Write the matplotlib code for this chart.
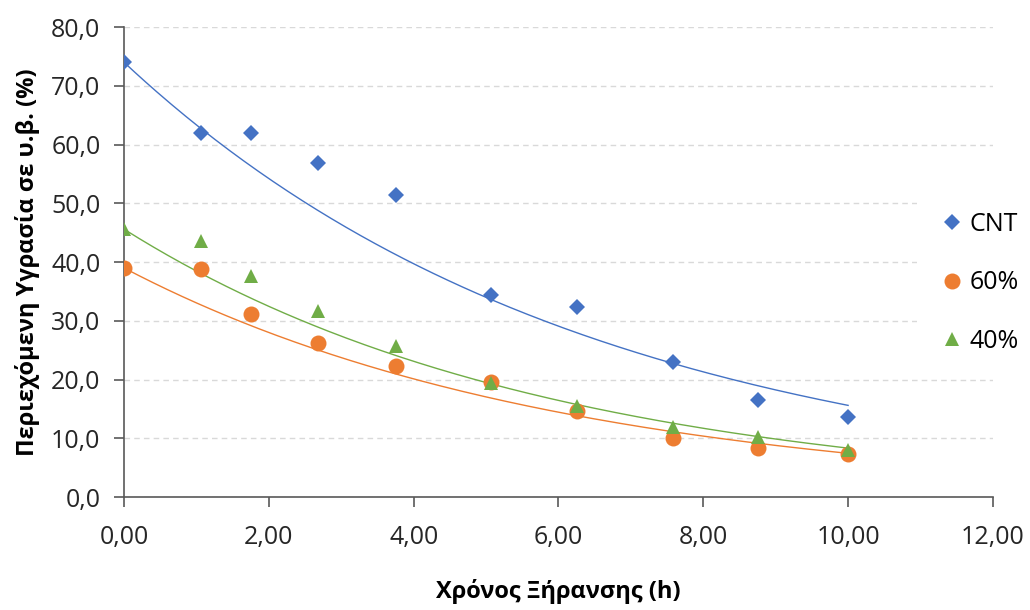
import matplotlib
matplotlib.use('Agg')
import matplotlib.pyplot as plt
import numpy as np
from matplotlib.ticker import FuncFormatter

plt.rcParams['font.family'] = ['Open Sans', 'DejaVu Sans']

# Data
time_h = [0.0, 1.06, 1.75, 2.68, 3.76, 5.07, 6.26, 7.58, 8.76, 10.0]
cnt = [74.0, 62.0, 62.0, 56.8, 51.5, 34.4, 32.4, 23.0, 16.5, 13.7]
p60 = [39.0, 38.8, 31.1, 26.3, 22.3, 19.6, 14.6, 10.0, 8.3, 7.4]
p40 = [45.6, 43.6, 37.7, 31.7, 25.7, 19.5, 15.5, 12.0, 10.3, 8.0]

labels = ['CNT', '60%', '40%']
colors = ['#4472C4', '#ED7D31', '#70AD47']
markers = ['D', 'o', '^']
sizes = [8.5, 11.5, 10]


def newton_model(x, y):
    # M = M0 * exp(-k t), k fitted on ln(M/M0) through the origin
    x = np.asarray(x)
    y = np.asarray(y)
    m0 = y[0]
    k = -np.sum(x * np.log(y / m0)) / np.sum(x ** 2)
    xs = np.linspace(x.min(), x.max(), 200)
    return xs, m0 * np.exp(-k * xs)


fig = plt.figure(figsize=(10.3, 6.1), dpi=100)
ax = fig.add_axes([0.1204, 0.185, 0.8436, 0.7707])

x = np.array(time_h)
for y, lab, c, m, s in zip([cnt, p60, p40], labels, colors, markers, sizes):
    xs, ys = newton_model(x, y)
    ax.plot(xs, ys, color=c, linewidth=1.0, zorder=2)
    ax.plot(x, y, linestyle='none', marker=m, markersize=s, color=c,
            markeredgewidth=0, label=lab, zorder=3)

ax.set_xlim(0, 12)
ax.set_ylim(0, 80)
ax.set_xticks(np.arange(0, 13, 2))
ax.set_yticks(np.arange(0, 81, 10))
ax.xaxis.set_major_formatter(FuncFormatter(lambda v, p: f'{v:.2f}'.replace('.', ',')))
ax.yaxis.set_major_formatter(FuncFormatter(lambda v, p: f'{v:.1f}'.replace('.', ',')))

ax.grid(axis='y', color='#D9D9D9', linestyle=(0, (4, 3)), linewidth=1.0, zorder=0)
ax.set_axisbelow(True)
for side in ['top', 'right']:
    ax.spines[side].set_visible(False)
for side in ['left', 'bottom']:
    ax.spines[side].set_color('#595959')
    ax.spines[side].set_linewidth(1.2)
ax.tick_params(axis='both', direction='out', length=7, width=1.2, color='#595959',
               labelsize=18, labelcolor='#262626')
ax.tick_params(axis='x', pad=13)
ax.tick_params(axis='y', pad=10)

ax.set_xlabel('Χρόνος Ξήρανσης (h)', fontsize=17, fontweight='bold', labelpad=21)
ax.set_ylabel('Περιεχόμενη Υγρασία σε υ.β. (%)', fontsize=17, fontweight='bold', labelpad=8)

leg = fig.legend(loc='upper left', bbox_to_anchor=(0.8903, 0.6934), fontsize=18,
                 frameon=True, facecolor='white', edgecolor='none', framealpha=1,
                 labelspacing=1.33, handletextpad=0.3, handlelength=0.8,
                 borderpad=1.0, borderaxespad=0)

fig.savefig('out.png', dpi=100)
